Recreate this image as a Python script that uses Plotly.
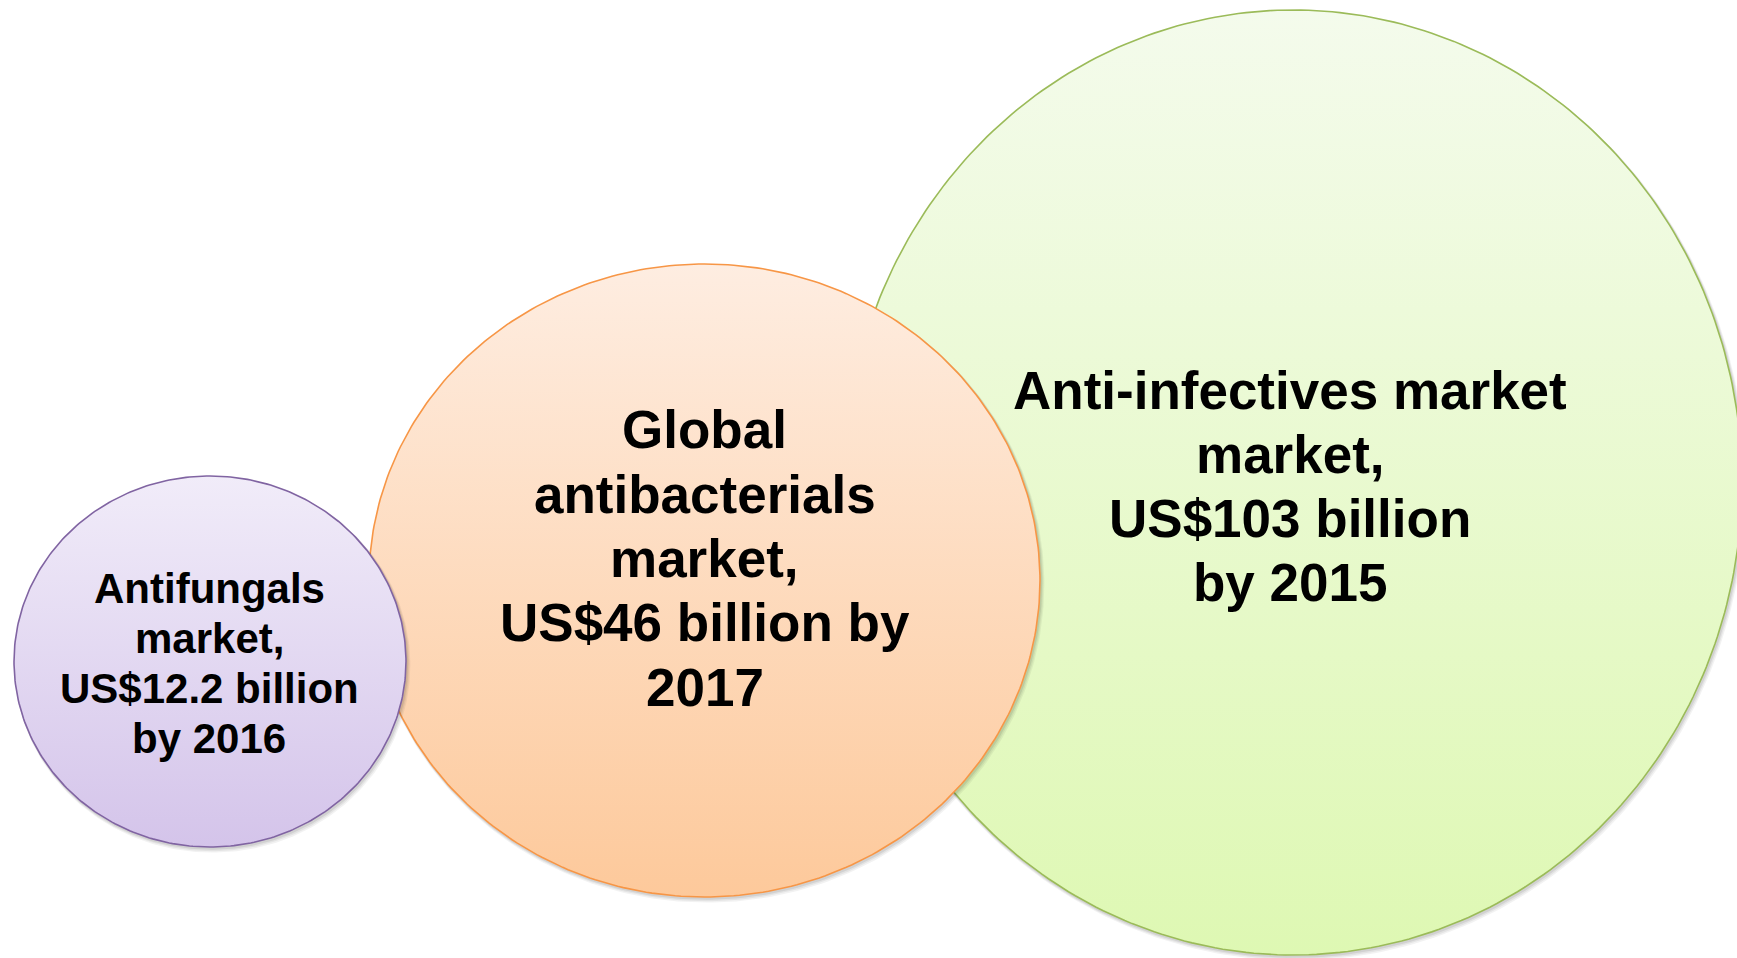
import numpy as np
import plotly.graph_objects as go

# ---- data ----
market_names = ["Antifungals", "Global antibacterials", "Anti-infectives market"]
market_values_bn = [12.2, 46, 103]
market_years = [2016, 2017, 2015]
label_lines = [
    ["Antifungals", "market,", f"US${market_values_bn[0]} billion", f"by {market_years[0]}"],
    ["Global", "antibacterials", "market,", f"US${market_values_bn[1]} billion by", f"{market_years[1]}"],
    ["Anti-infectives market", "market,", f"US${market_values_bn[2]} billion", f"by {market_years[2]}"],
]

# ---- layout geometry (pixels, y measured from top) ----
W, H = 1737, 958
bubble_cx = [210, 704.5, 1293]
bubble_cy = [661.5, 580.5, 482.5]
bubble_rx = [196, 335.5, 449]
bubble_ry = [185.5, 316.5, 472.5]
text_cx = [209, 704.5, 1290]
text_cy = [663.5, 558.5, 486]
text_size = [42, 53, 53]
text_gap = [50.3, 64.3, 64]
fill_top = ["#F1ECF9", "#FEEDE1", "#F4FBEC"]
fill_bottom = ["#D4C4EA", "#FDC99B", "#DEF8B3"]
edge_color = ["#8064A2", "#F79646", "#9BBB59"]
draw_order = [2, 1, 0]

t = np.linspace(0, 2 * np.pi, 361)
fig = go.Figure()

for i in draw_order:
    cx, cy, rx, ry = bubble_cx[i], bubble_cy[i], bubble_rx[i], bubble_ry[i]
    # soft drop shadow
    for k, a in [(4, 0.05), (3, 0.06), (2, 0.08)]:
        xs = cx + k * 0.6 + (rx + k * 0.5) * np.cos(t)
        ys = H - (cy + k * 0.9 + (ry + k * 0.5) * np.sin(t))
        fig.add_trace(go.Scatter(x=xs, y=ys, mode="lines", fill="toself",
                                 fillcolor=f"rgba(0,0,0,{a})", line=dict(width=0),
                                 hoverinfo="skip", showlegend=False))
    xs = cx + rx * np.cos(t)
    ys = H - (cy + ry * np.sin(t))
    fig.add_trace(go.Scatter(
        x=xs, y=ys, mode="lines", fill="toself",
        fillgradient=dict(type="vertical",
                          colorscale=[[0, fill_bottom[i]], [1, fill_top[i]]]),
        line=dict(color=edge_color[i], width=1.6),
        hoverinfo="skip", showlegend=False))

annotations = []
for i, lines in enumerate(label_lines):
    n = len(lines)
    for j, line in enumerate(lines):
        py = text_cy[i] + (j - (n - 1) / 2) * text_gap[i]
        annotations.append(dict(
            x=text_cx[i], y=H - py, xref="x", yref="y",
            text=f"<b>{line}</b>", showarrow=False,
            xanchor="center", yanchor="middle",
            font=dict(family="Liberation Sans, Arial, sans-serif",
                      size=text_size[i], color="#000000")))

fig.update_layout(
    width=W, height=H,
    margin=dict(l=0, r=0, t=0, b=0),
    paper_bgcolor="white", plot_bgcolor="white",
    xaxis=dict(range=[0, W], visible=False, fixedrange=True),
    yaxis=dict(range=[0, H], visible=False, fixedrange=True),
    annotations=annotations,
    showlegend=False,
)

fig.write_html("out.html", config={"displayModeBar": False},
               post_script="document.body.style.margin='0px';document.body.style.overflow='hidden';")
